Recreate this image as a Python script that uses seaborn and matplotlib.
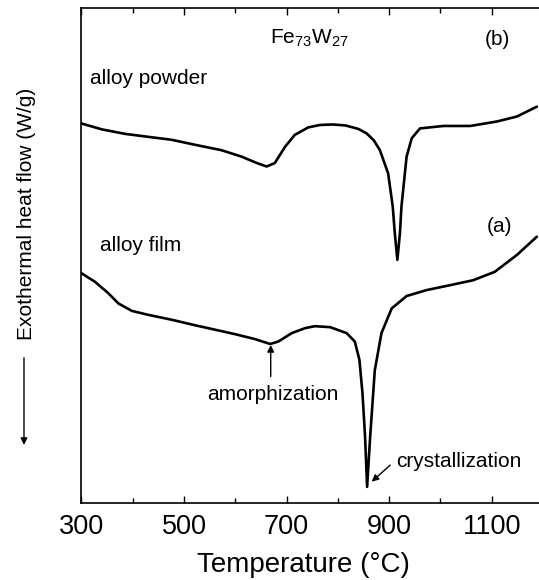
import numpy as np
import pandas as pd
import matplotlib
matplotlib.use("Agg")
import matplotlib.pyplot as plt
import seaborn as sns

# DSC traces of Fe73W27 (heat flow in arbitrary units, exothermal down)
powder_temp = [300, 340, 385, 430, 476, 521, 573, 612, 642, 661, 677, 697, 716,
               742, 765, 790, 815, 840, 856, 870, 882, 898, 907, 911, 916, 921,
               924, 934, 944, 960, 1006, 1058, 1110, 1149, 1188]
powder_flow = [76.7, 75.5, 74.6, 74.0, 73.4, 72.4, 71.3, 70.0, 68.7, 68.0, 68.7,
               72.0, 74.4, 75.9, 76.4, 76.5, 76.3, 75.6, 74.7, 73.3, 71.3, 66.6,
               59.9, 54.5, 49.1, 54.5, 59.9, 70.0, 73.7, 75.7, 76.2, 76.2, 77.1,
               78.1, 80.1]

film_temp = [300, 326, 352, 372, 398, 430, 476, 521, 547, 599, 638, 668, 684,
             710, 736, 755, 785, 817, 833, 842, 848, 853, 857, 863, 872, 885,
             905, 934, 973, 1019, 1064, 1106, 1149, 1188]
film_flow = [46.4, 44.7, 42.4, 40.3, 38.8, 38.0, 37.0, 35.9, 35.3, 34.1, 33.1,
             32.1, 32.6, 34.3, 35.3, 35.7, 35.5, 34.3, 32.6, 28.9, 22.1, 13.4,
             3.2, 13.4, 26.8, 34.3, 39.3, 41.8, 43.0, 44.0, 45.0, 46.7, 50.1, 53.8]

x_ticks = [300, 500, 700, 900, 1100]

sns.set_theme(style="ticks")
plt.rcParams["font.family"] = ["Liberation Sans", "DejaVu Sans"]
plt.rcParams["mathtext.fontset"] = "custom"
plt.rcParams["mathtext.rm"] = "Liberation Sans"
plt.rcParams["mathtext.it"] = "Liberation Sans"
plt.rcParams["text.color"] = "black"
plt.rcParams["axes.labelcolor"] = "black"

fig = plt.figure(figsize=(5.39, 5.80), dpi=100)
ax = fig.add_axes([0.1512, 0.1333, 0.8562, 0.8524])

powder = pd.DataFrame({"T": powder_temp, "Q": powder_flow})
film = pd.DataFrame({"T": film_temp, "Q": film_flow})
line_kw = dict(color="black", lw=1.9, sort=False, estimator=None,
               solid_joinstyle="round", solid_capstyle="round")
sns.lineplot(data=powder, x="T", y="Q", ax=ax, **line_kw)
sns.lineplot(data=film, x="T", y="Q", ax=ax, **line_kw)

ax.set_xlim(300, 1200)
ax.set_ylim(0, 100)
ax.set_xticks(x_ticks)
ax.set_xticks([400, 600, 800, 1000, 1200], minor=True)
ax.set_yticks([])
ax.tick_params(axis="x", which="both", direction="in", top=True, width=1,
               labelsize=19.5, pad=8, colors="black")
ax.tick_params(axis="x", which="major", length=5)
ax.tick_params(axis="x", which="minor", length=3.5)
for side in ["left", "bottom", "top"]:
    ax.spines[side].set_linewidth(1.2)
    ax.spines[side].set_color("black")
ax.spines["right"].set_visible(False)

ax.set_xlabel("Temperature (°C)", fontsize=20, color="black")
ax.set_ylabel("")
ax.xaxis.set_label_coords(0.482, -0.099)

# curve labels
fs = 15
ax.text(745, 94.0, r"Fe$_{\mathrm{73}}$W$_{\mathrm{27}}$", fontsize=fs,
        ha="center", va="center")
ax.text(1111, 93.6, "(b)", fontsize=fs, ha="center", va="center")
ax.text(316, 85.7, "alloy powder", fontsize=fs, ha="left", va="center")
ax.text(336, 52.1, "alloy film", fontsize=fs, ha="left", va="center")
ax.text(1116, 55.8, "(a)", fontsize=fs, ha="center", va="center")

arrow = dict(arrowstyle="-|>", lw=1.0, color="black", mutation_scale=10,
             shrinkA=0, shrinkB=0)
ax.annotate("", xy=(669, 31.9), xytext=(669, 25.5), arrowprops=arrow)
ax.text(673, 21.8, "amorphization", fontsize=fs, ha="center", va="center")
ax.annotate("", xy=(866, 4.25), xytext=(902, 7.6), arrowprops=arrow)
ax.text(913, 8.4, "crystallization", fontsize=fs, ha="left", va="center")

# y-axis title with the downward "exothermal" arrow beneath it
fig.text(0.050, 0.632, "Exothermal heat flow (W/g)", rotation=90,
         fontsize=15, ha="center", va="center")
fig.add_artist(matplotlib.patches.FancyArrowPatch(
    (0.0445, 0.388), (0.0445, 0.228), transform=fig.transFigure,
    arrowstyle="-|>", mutation_scale=10, lw=1.0, color="black"))

fig.savefig("out.png", dpi=100)
